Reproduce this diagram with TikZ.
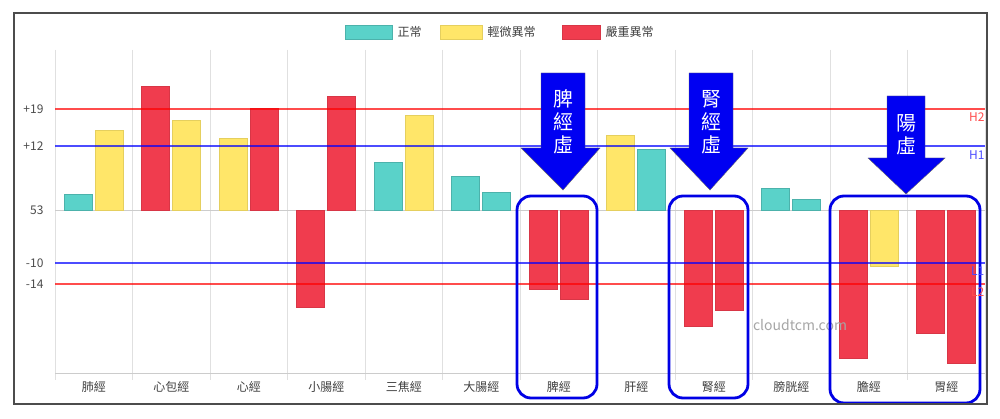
\documentclass[tikz,border=0pt]{standalone}
\usepackage{fontspec}
\setmainfont{Noto Sans CJK TC}
\begin{document}
\begin{tikzpicture}[x=1pt,y=-1pt,
  grid/.style={draw=black!12,line width=0.8pt},
  ticklab/.style={font=\fontsize{12}{14}\selectfont,text=black!70},
  catlab/.style={font=\fontsize{12}{14}\selectfont,text=black!75},
  ref/.style={line width=2pt,opacity=0.7},
  bigarrow/.style={fill=blue!95!black,draw=black!60,line width=0.4pt},
  arrtext/.style={text=white,font=\fontsize{20}{23}\selectfont,align=center},
  hbox/.style={draw=blue!90!black,line width=2.8pt,rounded corners=14pt}]
\definecolor{tealc}{HTML}{5AD2C9}
\definecolor{yelc}{HTML}{FFE669}
\definecolor{redc}{HTML}{F03C4E}
\tikzset{tealbar/.style={fill=tealc,draw=tealc!85!black},
  yelbar/.style={fill=yelc,draw=yelc!90!black},
  redbar/.style={fill=redc,draw=redc!90!black}}
\useasboundingbox (0,0) rectangle (1000,419);
\fill[white] (0,0) rectangle (1000,419);
% grid
\foreach \i in {0,...,12} { \draw[grid] ({55+77.5*\i},50) -- ({55+77.5*\i},380); }
\draw[black!20] (55,373) -- (985,373);
\draw[black!20] (55,210) -- (985,210);
% bars
\foreach \c/\sa/\ya/\sb/\yb in {0/tealbar/194/yelbar/130,1/redbar/86/yelbar/120,2/yelbar/138/redbar/108,
  3/redbar/307/redbar/96,4/tealbar/162/yelbar/115,5/tealbar/176/tealbar/192,6/redbar/289/redbar/299,
  7/yelbar/135/tealbar/149,8/redbar/326/redbar/310,9/tealbar/188/tealbar/199,10/redbar/358/yelbar/266,
  11/redbar/333/redbar/363} {
  \path[\sa] ({55+77.5*\c+9},210) rectangle ({55+77.5*\c+37},\ya);
  \path[\sb] ({55+77.5*\c+40},210) rectangle ({55+77.5*\c+68},\yb);
}
% reference lines
\draw[ref,red] (55,109) -- (985,109);
\draw[ref,blue] (55,146) -- (985,146);
\draw[ref,blue] (55,263) -- (985,263);
\draw[ref,red] (55,284) -- (985,284);
% y labels
\node[ticklab,anchor=east] (t19) at (47,109) {+19};
\node[ticklab,anchor=east] (t12) at (47,146) {+12};
\node[ticklab,anchor=east] (t53) at (47,210) {53};
\node[ticklab,anchor=east] (tm10) at (47,263) {-10};
\node[ticklab,anchor=east] (tm14) at (47,284) {-14};
% categories
\foreach \c/\n in {0/肺經,1/心包經,2/心經,3/小腸經,4/三焦經,5/大腸經,6/脾經,7/肝經,8/腎經,9/膀胱經,10/膽經,11/胃經} {
  \node[catlab] (cat\c) at ({55+77.5*\c+38.75},387) {\n};
}
% legend
\path[tealbar] (345,25) rectangle (392,39);
\node[catlab,anchor=west] (lg1) at (394,32) {正常};
\path[yelbar] (440,25) rectangle (482,39);
\node[catlab,anchor=west] (lg2) at (484,32) {輕微異常};
\path[redbar] (562,25) rectangle (600,39);
\node[catlab,anchor=west] (lg3) at (602,32) {嚴重異常};
% watermark
\node[text=black!35,font=\fontsize{14}{16}\selectfont] (wm) at (800,325) {cloudtcm.com};
% highlight boxes
\draw[hbox] (517,196) rectangle (597,398);
\draw[hbox] (669,196) rectangle (748,398);
\draw[hbox] (830,196) rectangle (980,403);
% line labels
\node[text=red!70,font=\fontsize{12}{14}\selectfont,anchor=west,inner sep=0pt] (h2) at (969,117) {H2};
\node[text=blue!70,font=\fontsize{12}{14}\selectfont,anchor=west,inner sep=0pt] (h1) at (969,155) {H1};
\node[text=blue!70,font=\fontsize{12}{14}\selectfont,anchor=west,inner sep=0pt] (l1) at (971,271) {L1};
\node[text=red!70,font=\fontsize{12}{14}\selectfont,anchor=west,inner sep=0pt] (l2) at (971,292) {L2};
% big arrows
\draw[bigarrow] (541,73) -- (585,73) -- (585,148) -- (600,148) -- (563,190) -- (521,148) -- (541,148) -- cycle;
\node[arrtext] (a1) at (563,122) {脾\\經\\虛};
\draw[bigarrow] (689,73) -- (733,73) -- (733,148) -- (748,148) -- (710,190) -- (670,148) -- (689,148) -- cycle;
\node[arrtext] (a2) at (711,122) {腎\\經\\虛};
\draw[bigarrow] (887,96) -- (925,96) -- (925,158) -- (945,158) -- (906,194) -- (868,158) -- (887,158) -- cycle;
\node[arrtext] (a3) at (906,135) {陽\\虛};
% frame
\fill[white] (988,0) rectangle (1000,419);
\draw[black!70,line width=2.5pt] (14,13) rectangle (987,404);
\end{tikzpicture}
\end{document}
